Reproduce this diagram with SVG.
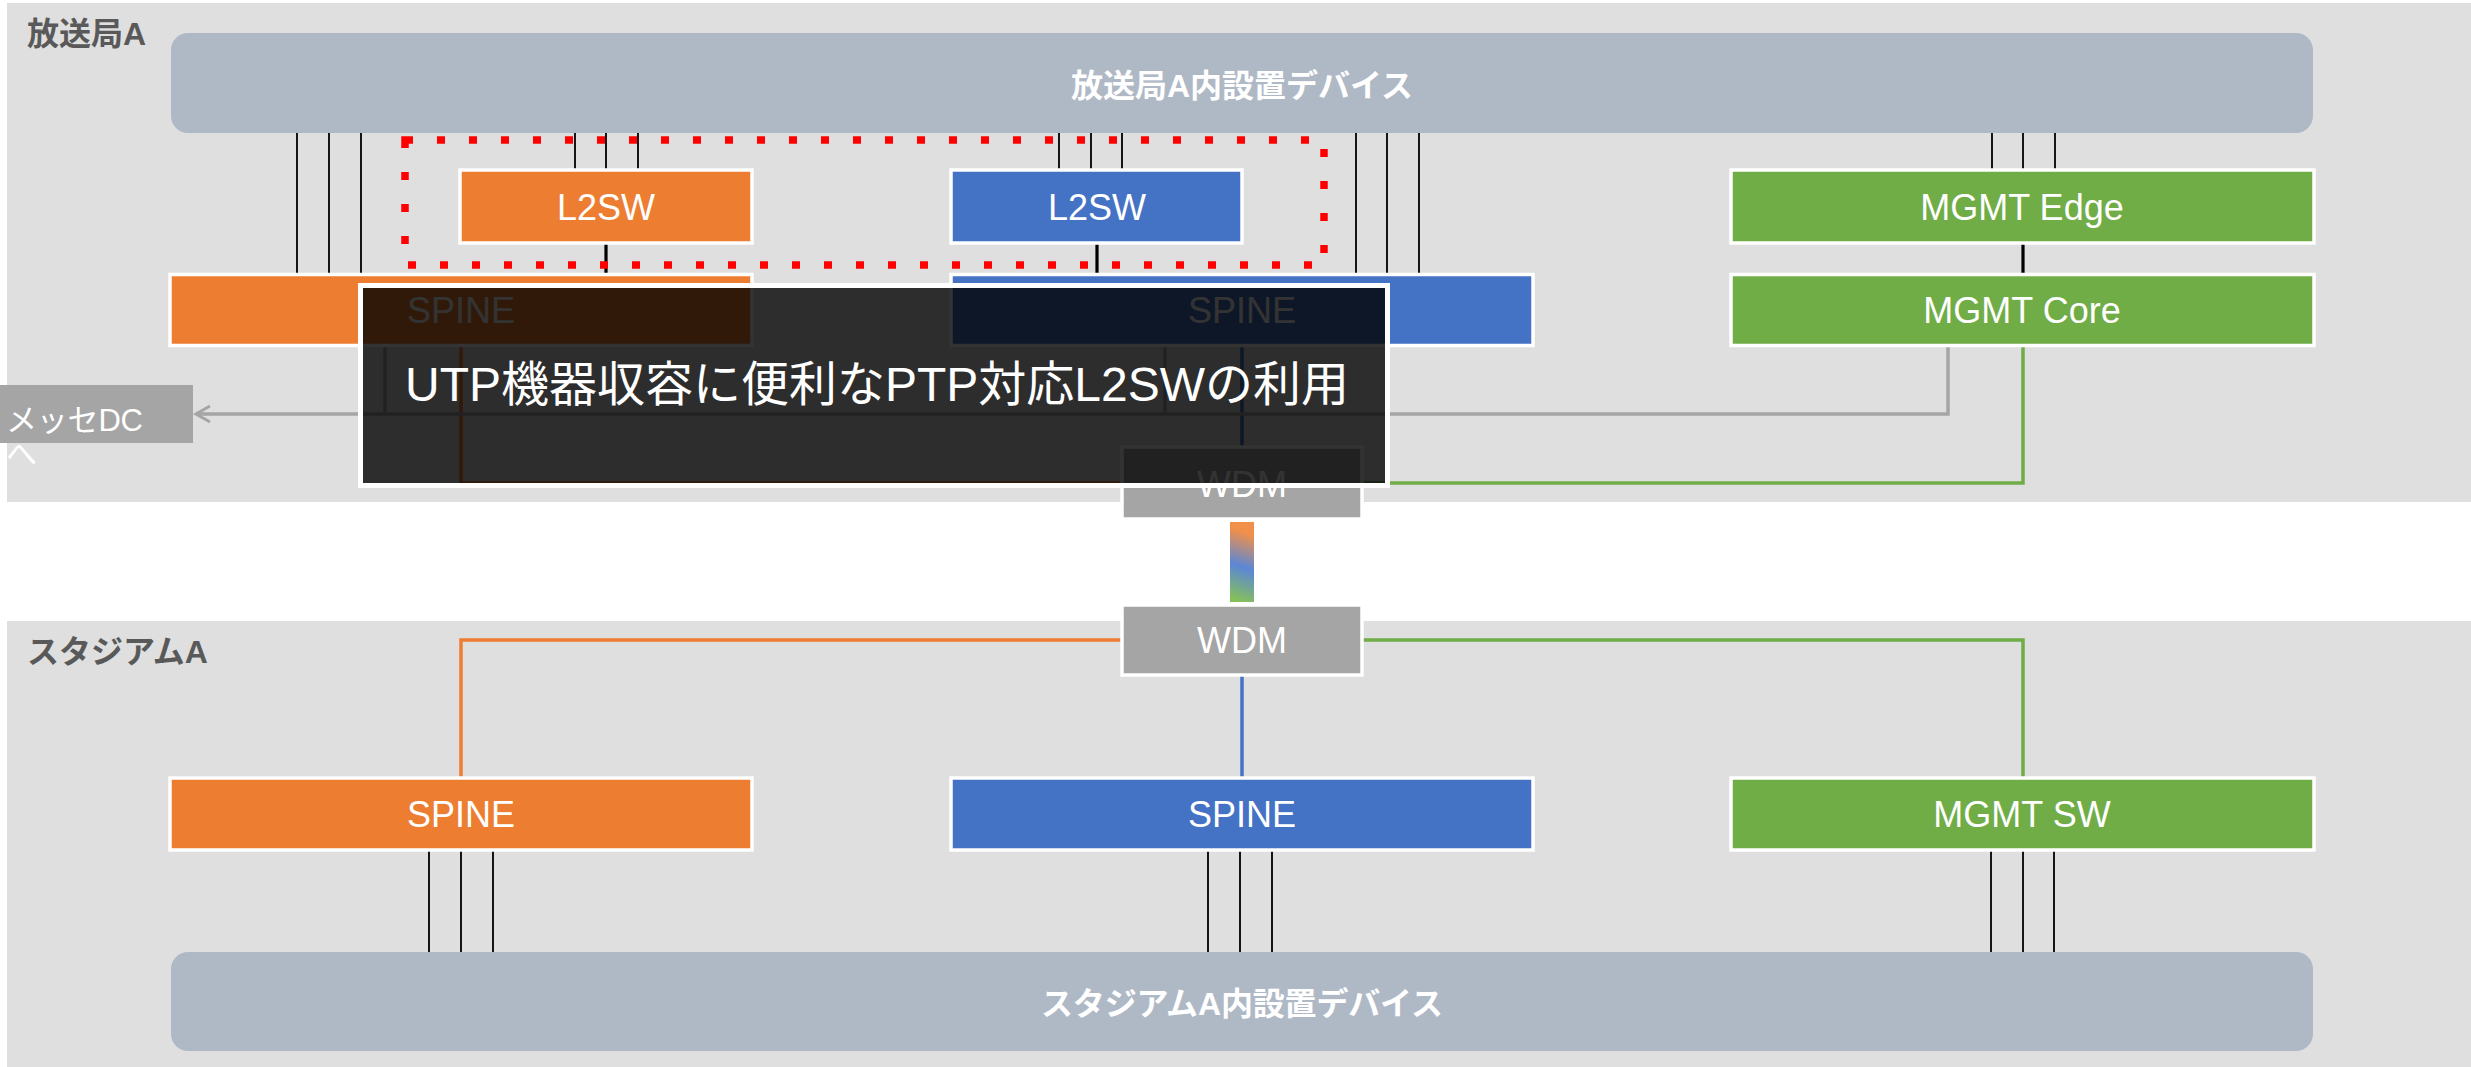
<svg xmlns="http://www.w3.org/2000/svg" width="2471" height="1067" viewBox="0 0 2471 1067">
  <style>
    .panel { fill: #dfdfdf; }
    .plabel { font-family: "Liberation Sans", "Noto Sans CJK JP", sans-serif; font-weight: bold; font-size: 32px; fill: #595959; }
    .bar { fill: #afb9c6; }
    .barlabel { font-family: "Liberation Sans", "Noto Sans CJK JP", sans-serif; font-weight: bold; font-size: 32px; fill: #ffffff; text-anchor: middle; }
    .node { stroke: #ffffff; stroke-width: 3.5; }
    .orange { fill: #ed7d31; }
    .blue { fill: #4472c4; }
    .green { fill: #70ad47; }
    .gray { fill: #a5a5a5; }
    .nlabel { font-family: "Liberation Sans", "Noto Sans CJK JP", sans-serif; font-size: 36px; fill: #ffffff; text-anchor: middle; }
    .thin { stroke: #000000; stroke-width: 1.8; fill: none; }
    .thick { stroke: #000000; stroke-width: 3.2; fill: none; }
    .c-or { stroke: #ed7d31; stroke-width: 3.5; fill: none; }
    .c-bl { stroke: #4472c4; stroke-width: 3.5; fill: none; }
    .c-gr { stroke: #70ad47; stroke-width: 3.5; fill: none; }
    .c-gy { stroke: #a5a5a5; stroke-width: 3.5; fill: none; }
  </style>
  <defs>
    <marker id="arrow" markerUnits="userSpaceOnUse" markerWidth="22" markerHeight="22" refX="17" refY="11" orient="auto">
      <path d="M3,3 L17,11 L3,19" fill="none" stroke="#a5a5a5" stroke-width="3"/>
    </marker>
    <linearGradient id="wdmgrad" gradientUnits="userSpaceOnUse" x1="1254" y1="528" x2="1230" y2="598">
      <stop offset="0.1" stop-color="#f0904a"/>
      <stop offset="0.55" stop-color="#5b87d6"/>
      <stop offset="1" stop-color="#86c05a"/>
    </linearGradient>
  </defs>

  <g id="panels">
    <rect class="panel" x="7" y="3" width="2464" height="499"/>
    <text class="plabel" x="27" y="45">放送局A</text>
    <rect class="panel" x="7" y="621" width="2464" height="446"/>
    <text class="plabel" x="27" y="663">スタジアムA</text>
  </g>

  <g id="device-bar-a">
    <rect class="bar" x="171" y="33" width="2142" height="100" rx="17"/>
    <text class="barlabel" x="1242" y="97" textLength="342" lengthAdjust="spacing">放送局A内設置デバイス</text>
  </g>
  <g id="device-bar-stadium">
    <rect class="bar" x="171" y="952" width="2142" height="99" rx="17"/>
    <text class="barlabel" x="1242" y="1015" textLength="402" lengthAdjust="spacing">スタジアムA内設置デバイス</text>
  </g>

  <g id="connectors">
    <path class="thin" d="M297,133V274 M329,133V274 M361,133V274"/>
    <path class="thin" d="M575,133V170 M606,133V170 M638,133V170"/>
    <path class="thin" d="M1059,133V170 M1091,133V170 M1122,133V170"/>
    <path class="thin" d="M1356,133V274 M1387,133V274 M1419,133V274"/>
    <path class="thin" d="M1992,133V170 M2023,133V170 M2055,133V170"/>
    <path class="thick" d="M606,243V274 M1097,243V274 M2023,243V274"/>
    <path class="c-or" d="M461,346V483H1122"/>
    <path class="c-bl" d="M1242,346V447"/>
    <path class="c-gr" d="M2023,346V483H1362"/>
    <path class="c-gy" d="M385,346V414 M1165,346V414"/>
    <path class="c-gy" d="M1948,346V414H196" marker-end="url(#arrow)"/>
    <path class="c-or" d="M1122,640H461V778"/>
    <path class="c-bl" d="M1242,675V778"/>
    <path class="c-gr" d="M1362,640H2023V778"/>
    <path class="thin" d="M429,850V952 M461,850V952 M493,850V952"/>
    <path class="thin" d="M1208,850V952 M1240,850V952 M1272,850V952"/>
    <path class="thin" d="M1991,850V952 M2023,850V952 M2054,850V952"/>
  </g>

  <g id="l2sw-orange">
    <rect class="node orange" x="460" y="170" width="292" height="73"/>
    <text class="nlabel" x="606" y="220">L2SW</text>
  </g>
  <g id="l2sw-blue">
    <rect class="node blue" x="951" y="170" width="291" height="73"/>
    <text class="nlabel" x="1097" y="220">L2SW</text>
  </g>
  <g id="mgmt-edge">
    <rect class="node green" x="1731" y="170" width="583" height="73"/>
    <text class="nlabel" x="2022" y="220">MGMT Edge</text>
  </g>
  <g id="spine-orange-a">
    <rect class="node orange" x="170" y="274.5" width="582" height="71"/>
    <text class="nlabel" x="461" y="323">SPINE</text>
  </g>
  <g id="spine-blue-a">
    <rect class="node blue" x="951" y="274.5" width="582" height="71"/>
    <text class="nlabel" x="1242" y="323">SPINE</text>
  </g>
  <g id="mgmt-core">
    <rect class="node green" x="1731" y="274.5" width="583" height="71"/>
    <text class="nlabel" x="2022" y="323">MGMT Core</text>
  </g>
  <g id="messe-dc">
    <rect class="gray" x="0" y="385" width="193" height="58"/>
    <text font-family="Liberation Sans, Noto Sans CJK JP, sans-serif" font-size="31" fill="#ffffff"><tspan x="6" y="431" textLength="137" lengthAdjust="spacing">メッセDC</tspan><tspan x="6" y="465">へ</tspan></text>
  </g>
  <g id="wdm-a">
    <rect class="node gray" x="1122" y="447" width="240" height="72"/>
    <text class="nlabel" x="1242" y="497">WDM</text>
  </g>
  <g id="wdm-link">
    <rect x="1230" y="522" width="24" height="80" fill="url(#wdmgrad)"/>
  </g>
  <g id="wdm-stadium">
    <rect class="node gray" x="1122" y="605" width="240" height="70"/>
    <text class="nlabel" x="1242" y="653">WDM</text>
  </g>
  <g id="spine-orange-s">
    <rect class="node orange" x="170" y="778" width="582" height="72"/>
    <text class="nlabel" x="461" y="827">SPINE</text>
  </g>
  <g id="spine-blue-s">
    <rect class="node blue" x="951" y="778" width="582" height="72"/>
    <text class="nlabel" x="1242" y="827">SPINE</text>
  </g>
  <g id="mgmt-sw">
    <rect class="node green" x="1731" y="778" width="583" height="72"/>
    <text class="nlabel" x="2022" y="827">MGMT SW</text>
  </g>

  <g id="highlight">
    <rect x="405" y="140" width="919" height="125" fill="none" stroke="#ff0000" stroke-width="7.5" stroke-dasharray="8 24"/>
  </g>

  <g id="caption">
    <rect x="360.5" y="285.5" width="1027" height="200" fill="#000000" fill-opacity="0.8" stroke="#ffffff" stroke-width="5"/>
    <text x="405" y="401" font-family="Liberation Sans, Noto Sans CJK JP, sans-serif" font-size="48" fill="#ffffff">UTP機器収容に便利なPTP対応L2SWの利用</text>
  </g>
</svg>
